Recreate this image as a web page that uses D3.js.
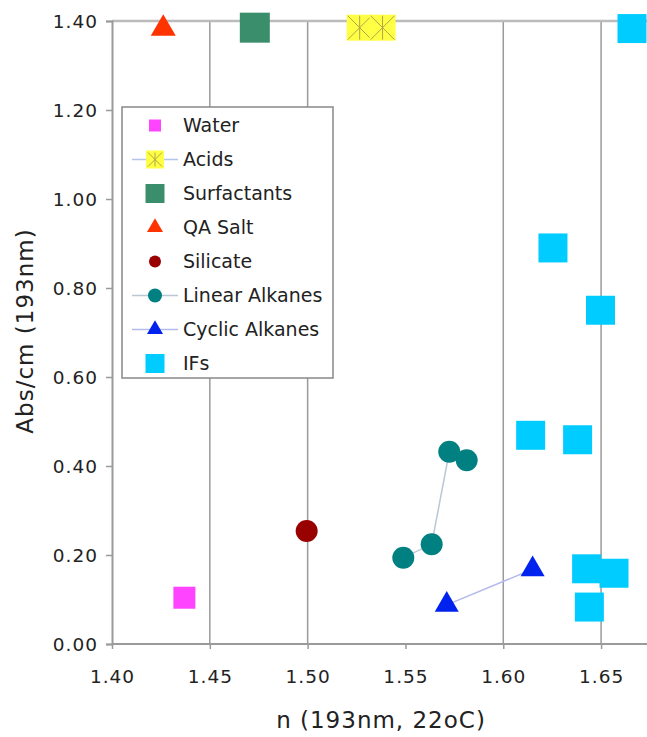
<!DOCTYPE html>
<html>
<head>
<meta charset="utf-8">
<script src="https://cdn.jsdelivr.net/npm/d3@7"></script>
<style>
  html, body { margin: 0; padding: 0; background: #fff; }
  text { font-family: "DejaVu Sans", sans-serif; fill: #222; }
</style>
</head>
<body>
<div id="chart"></div>
<script>
// data
const water = [[1.437, 0.104]];
const acids = [[1.5266, 1.385], [1.5383, 1.385]];
const surfactants = [[1.473, 1.385]];
const qaSalt = [[1.4262, 1.383]];
const silicate = [[1.4995, 0.254]];
const linearAlkanes = [[1.5489, 0.194], [1.5634, 0.224], [1.5724, 0.432], [1.5813, 0.413]];
const cyclicAlkanes = [[1.5711, 0.088], [1.615, 0.168]];
const ifs = [[1.6658, 1.383], [1.6254, 0.890], [1.6497, 0.750], [1.614, 0.469], [1.638, 0.459],
             [1.6426, 0.169], [1.6566, 0.159], [1.644, 0.083]];

const xTicks = [1.40, 1.45, 1.50, 1.55, 1.60, 1.65];
const yTicks = [0, 0.2, 0.4, 0.6, 0.8, 1.0, 1.2, 1.4];
const gridX = [1.45, 1.50, 1.60, 1.65];

const W = 647, H = 737;
const AXIS = "#9a9a9a";

const svg = d3.select("#chart").append("svg")
    .attr("width", W).attr("height", H);

const x = d3.scaleLinear().domain([1.40, 1.675]).range([112, 650]);
const y = d3.scaleLinear().domain([0, 1.40]).range([644, 21]);

// vertical gridlines (none at 1.55 in the original)
svg.append("g").selectAll("line")
    .data(gridX).enter().append("line")
    .attr("x1", d => x(d)).attr("x2", d => x(d))
    .attr("y1", y(0)).attr("y2", y(1.4))
    .attr("stroke", AXIS).attr("stroke-width", 1.5);

// top line
svg.append("line")
    .attr("x1", x(1.4)).attr("x2", W)
    .attr("y1", y(1.4)).attr("y2", y(1.4))
    .attr("stroke", "#bbb").attr("stroke-width", 2.5);

// axes
const xAxis = svg.append("g")
    .attr("transform", `translate(0,${y(0)})`)
    .call(d3.axisBottom(x).tickValues(xTicks).tickFormat(d3.format(".2f")).tickSize(5).tickPadding(21));
const yAxis = svg.append("g")
    .attr("transform", `translate(${x(1.4)},0)`)
    .call(d3.axisLeft(y).tickValues(yTicks).tickFormat(d3.format(".2f")).tickSize(6).tickPadding(8));

[xAxis, yAxis].forEach(a => {
    a.select(".domain").attr("stroke", AXIS).attr("stroke-width", 2);
    a.selectAll(".tick line").attr("stroke", AXIS).attr("stroke-width", 1.5);
    a.selectAll(".tick text")
        .style("font-size", "18.5px").style("letter-spacing", "1px")
        .attr("fill", "#222");
});
xAxis.select(".domain").attr("d", `M${x(1.4)},0H${W}`);
yAxis.selectAll(".tick text").attr("dy", "0.36em");

// axis titles
svg.append("text")
    .attr("x", 381).attr("y", 728)
    .attr("text-anchor", "middle")
    .style("font-size", "23px").style("letter-spacing", "1px")
    .text("n (193nm, 22oC)");
svg.append("text")
    .attr("transform", "translate(33,331) rotate(-90)")
    .attr("text-anchor", "middle")
    .style("font-size", "23px").style("letter-spacing", "1px")
    .text("Abs/cm (193nm)");

// marker helpers
const sym = (type, size) => d3.symbol().type(type).size(size)();
const triSize = w => w * w * Math.sqrt(3) / 4;
const asterisk = s => {
    const h = s / 2;
    return `M0,${-h}V${h}M${-h},${-h}L${h},${h}M${h},${-h}L${-h},${h}`;
};

const lineGen = d3.line().x(d => x(d[0])).y(d => y(d[1]));

// series lines
svg.append("path").datum(linearAlkanes)
    .attr("d", lineGen).attr("fill", "none")
    .attr("stroke", "#b9c8d4").attr("stroke-width", 1.5);
svg.append("path").datum(cyclicAlkanes)
    .attr("d", lineGen).attr("fill", "none")
    .attr("stroke", "#b4baea").attr("stroke-width", 1.5);

function drawPoints(data, path, fill, extra) {
    const g = svg.append("g").selectAll("g")
        .data(data).enter().append("g")
        .attr("transform", d => `translate(${x(d[0])},${y(d[1])})`);
    g.append("path").attr("d", path).attr("fill", fill);
    if (extra) g.append("path").attr("d", extra).attr("stroke", "#b0a448").attr("stroke-width", 1).attr("fill", "none");
}

drawPoints(water, sym(d3.symbolSquare, 22 * 22), "#ff44ff");
drawPoints(acids, sym(d3.symbolSquare, 26 * 26), "#ffff44", asterisk(24));
drawPoints(surfactants, sym(d3.symbolSquare, 30 * 30), "#3a8e6c");
drawPoints(qaSalt, sym(d3.symbolTriangle, triSize(25)), "#ff3300");
drawPoints(silicate, sym(d3.symbolCircle, Math.PI * 11 * 11), "#990000");
drawPoints(linearAlkanes, sym(d3.symbolCircle, Math.PI * 11 * 11), "#008080");
drawPoints(cyclicAlkanes, sym(d3.symbolTriangle, triSize(24)), "#0022ee");
drawPoints(ifs, sym(d3.symbolSquare, 29 * 29), "#00ccff");

// legend
const legendItems = [
    { name: "Water", path: sym(d3.symbolSquare, 12 * 12), fill: "#ff44ff" },
    { name: "Acids", path: sym(d3.symbolSquare, 18 * 18), fill: "#ffff44", line: "#b4c4ea", extra: asterisk(14) },
    { name: "Surfactants", path: sym(d3.symbolSquare, 19 * 19), fill: "#3a8e6c" },
    { name: "QA Salt", path: sym(d3.symbolTriangle, triSize(16)), fill: "#ff3300" },
    { name: "Silicate", path: sym(d3.symbolCircle, Math.PI * 6 * 6), fill: "#990000" },
    { name: "Linear Alkanes", path: sym(d3.symbolCircle, Math.PI * 7 * 7), fill: "#008080", line: "#b9c8d4" },
    { name: "Cyclic Alkanes", path: sym(d3.symbolTriangle, triSize(16)), fill: "#0022ee", line: "#b4baea" },
    { name: "IFs", path: sym(d3.symbolSquare, 19 * 19), fill: "#00ccff" }
];

const legend = svg.append("g");
legend.append("rect")
    .attr("x", 122).attr("y", 107).attr("width", 211).attr("height", 271)
    .attr("fill", "#fff").attr("stroke", "#888").attr("stroke-width", 1.5);

const li = legend.selectAll("g.item")
    .data(legendItems).enter().append("g")
    .attr("class", "item")
    .attr("transform", (d, i) => `translate(155,${125.5 + i * 34})`);
li.filter(d => d.line).append("line")
    .attr("x1", -23).attr("x2", 23)
    .attr("stroke", d => d.line).attr("stroke-width", 1.5);
li.append("path").attr("d", d => d.path).attr("fill", d => d.fill);
li.filter(d => d.extra).append("path")
    .attr("d", d => d.extra).attr("stroke", "#b0a448").attr("stroke-width", 1).attr("fill", "none");
li.append("text")
    .attr("x", 28).attr("dy", "0.36em")
    .style("font-size", "19px")
    .text(d => d.name);
</script>
</body>
</html>
